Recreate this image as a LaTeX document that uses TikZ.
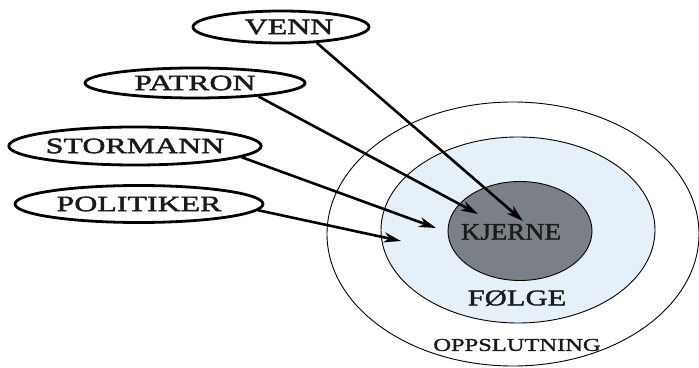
\documentclass[tikz,border=0pt]{standalone}
\usepackage{fontspec}
\setmainfont{Liberation Serif}
\newfontfamily\lblfont[FakeStretch=1.45,FakeBold=2]{Liberation Serif}
\newfontfamily\kfont[FakeStretch=1.12,FakeBold=1.5]{Liberation Serif}
\newfontfamily\ofont[FakeStretch=1.36,FakeBold=1.5]{Liberation Serif}
\usetikzlibrary{shapes.geometric,arrows.meta}
\definecolor{lightring}{HTML}{E6F0F9}
\definecolor{coregray}{HTML}{7A8085}
\definecolor{inktext}{HTML}{1A1A1A}
\tikzset{
  ring/.style={ellipse, draw=black, line width=0.9pt, inner sep=0pt},
  lbl/.style={ellipse, draw=black, line width=2.8pt, inner sep=0pt, fill=white,
    font=\lblfont\fontsize{22}{22}\selectfont, text=inktext},
  conn/.style={line width=2.6pt, -{Stealth[length=17pt,width=10pt,inset=5pt]}},
  ringtext/.style={inner sep=0pt, text=inktext}
}
\begin{document}
\begin{tikzpicture}[x=1pt,y=1pt]
\useasboundingbox (0,0) rectangle (699,367);
% rings (y = 367 - pixel y)
\node[ring, fill=white, minimum width=372, minimum height=264] (outer) at (513,133) {};
\node[ring, fill=lightring, minimum width=274, minimum height=186] (middle) at (518,137) {};
\node[ring, fill=coregray, minimum width=144, minimum height=99] (core) at (520,136) {};
\node[ringtext, font=\kfont\fontsize{24}{24}\selectfont] (kjerne) at (511,135) {KJERNE};
\node[ringtext, font=\ofont\fontsize{22.5}{22.5}\selectfont] (folge) at (517,69) {FØLGE};
\node[ringtext, font=\ofont\fontsize{18}{18}\selectfont] (oppslutning) at (517,22) {OPPSLUTNING};
% labels
\node[lbl, minimum width=176, minimum height=32] (venn) at (281,340) {\hspace*{16pt}VENN};
\node[lbl, minimum width=220, minimum height=30] (patron) at (195,284) {PATRON};
\node[lbl, minimum width=243, minimum height=38] (stormann) at (135,221) {STORMANN};
\node[lbl, minimum width=248, minimum height=37] (politiker) at (139,163) {POLITIKER};
% arrow targets
\coordinate (tvenn) at (523,146);
\coordinate (tpatron) at (478,153);
\coordinate (tstormann) at (436,139);
\coordinate (tpolitiker) at (401,126);
\draw[conn] (venn.-24) -- (tvenn);
\draw[conn] (patron.-12) -- (tpatron);
\draw[conn] (stormann.-6) -- (tstormann);
\draw[conn] (politiker.-3) -- (tpolitiker);
\end{tikzpicture}
\end{document}
